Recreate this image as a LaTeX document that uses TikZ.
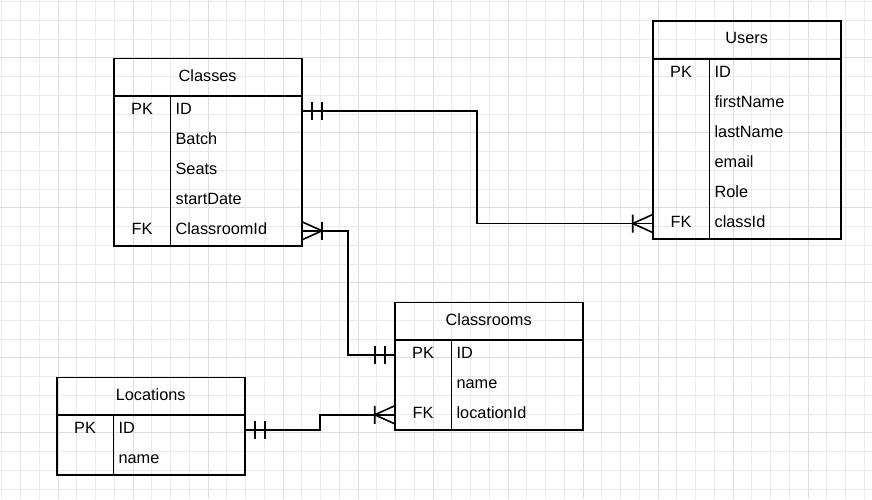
\documentclass[tikz,border=0pt]{standalone}
\usepackage{fontspec}
\setmainfont{Liberation Sans}
\usetikzlibrary{positioning}
\definecolor{gridminor}{HTML}{EBEBEB}
\definecolor{gridmajor}{HTML}{DEDEDE}
\tikzset{
  tbl/.style={line width=1.6pt, line cap=rect},
  link/.style={line width=1.6pt},
  hdr/.style={minimum width=187.5, minimum height=37.5, inner sep=0pt, text height=11.8pt, text depth=4pt},
  keycell/.style={minimum width=56.3, minimum height=30, inner sep=0pt, text height=11.8pt, text depth=3.5pt},
  fieldcell/.style={text width=121.2, inner xsep=5, inner ysep=0pt, minimum height=30, align=left, text height=11.8pt, text depth=3.5pt},
  onlyone/.pic={\draw[link] (10,-9) -- (10,9) (20,-9) -- (20,9);},
  many/.pic={\draw[link] (-20,0) -- (0,-9) (-20,0) -- (0,9) (-20,-9) -- (-20,9);}
}

\begin{document}
\begin{tikzpicture}[x=1pt, y=-1pt, font=\fontsize{16.3}{19}\selectfont]
\useasboundingbox[fill=white] (0,0) rectangle (872,499);
% grid
\foreach \i in {0,...,46} {
	\pgfmathtruncatemacro{\m}{mod(\i,4)}
	\ifnum\m=3 \def\gc{gridmajor}\else\def\gc{gridminor}\fi
	\draw[\gc, line width=1pt] ({1.95+18.75*\i},0) -- ({1.95+18.75*\i},499);
	};
\foreach \i in {0,...,26} {
	\pgfmathtruncatemacro{\m}{mod(\i,4)}
	\ifnum\m=3 \def\gc{gridmajor}\else\def\gc{gridminor}\fi
	\draw[\gc, line width=1pt] (0,{1.7+18.75*\i}) -- (872,{1.7+18.75*\i});
	};

% Classes
\node[hdr, anchor=north west] (cls) at (113.7,58.3) {Classes};
\foreach \k/\f [count=\i] in {PK/ID, {}/Batch, {}/Seats, {}/startDate, FK/ClassroomId} {
	\node[keycell, anchor=west] (cls-k\i) at (113.7,{80.8+30*\i}) {\k};
	\node[fieldcell, anchor=west] (cls-\i) at (cls-k\i.east) {\f};
	};
\draw[tbl] (cls.north west) rectangle (cls-5.south east);
\draw[tbl] (cls.south west) -- (cls.south east);
\draw[tbl] (cls-k1.north east) -- (cls-k5.south east);

% Users
\node[hdr, anchor=north west] (usr) at (652.7,21) {Users};
\foreach \k/\f [count=\i] in {PK/ID, {}/firstName, {}/lastName, {}/email, {}/Role, FK/classId} {
	\node[keycell, anchor=west] (usr-k\i) at (652.7,{43.5+30*\i}) {\k};
	\node[fieldcell, anchor=west] (usr-\i) at (usr-k\i.east) {\f};
	};
\draw[tbl] (usr.north west) rectangle (usr-6.south east);
\draw[tbl] (usr.south west) -- (usr.south east);
\draw[tbl] (usr-k1.north east) -- (usr-k6.south east);

% Classrooms
\node[hdr, anchor=north west] (crm) at (394.7,302.3) {Classrooms};
\foreach \k/\f [count=\i] in {PK/ID, {}/name, FK/locationId} {
	\node[keycell, anchor=west] (crm-k\i) at (394.7,{324.8+30*\i}) {\k};
	\node[fieldcell, anchor=west] (crm-\i) at (crm-k\i.east) {\f};
	};
\draw[tbl] (crm.north west) rectangle (crm-3.south east);
\draw[tbl] (crm.south west) -- (crm.south east);
\draw[tbl] (crm-k1.north east) -- (crm-k3.south east);

% Locations
\node[hdr, anchor=north west] (loc) at (56.7,377.3) {Locations};
\foreach \k/\f [count=\i] in {PK/ID, {}/name} {
	\node[keycell, anchor=west] (loc-k\i) at (56.7,{399.8+30*\i}) {\k};
	\node[fieldcell, anchor=west] (loc-\i) at (loc-k\i.east) {\f};
	};
\draw[tbl] (loc.north west) rectangle (loc-2.south east);
\draw[tbl] (loc.south west) -- (loc.south east);
\draw[tbl] (loc-k1.north east) -- (loc-k2.south east);

% relations
\coordinate (j1) at (477,0);
\coordinate (j2) at (348,0);
\coordinate (j3) at (320,0);
\draw[link] (cls-1.east) -- (cls-1.east -| j1) -- (usr-k6.west -| j1) -- (usr-k6.west);
\draw[link] (cls-5.east) -- (cls-5.east -| j2) -- (crm-k1.west -| j2) -- (crm-k1.west);
\draw[link] (loc-1.east) -- (loc-1.east -| j3) -- (crm-k3.west -| j3) -- (crm-k3.west);
\pic at (cls-1.east) {onlyone};
\pic at (usr-k6.west) {many};
\pic[xscale=-1] at (cls-5.east) {many};
\pic[xscale=-1] at (crm-k1.west) {onlyone};
\pic at (loc-1.east) {onlyone};
\pic at (crm-k3.west) {many};
\end{tikzpicture}
\end{document}
